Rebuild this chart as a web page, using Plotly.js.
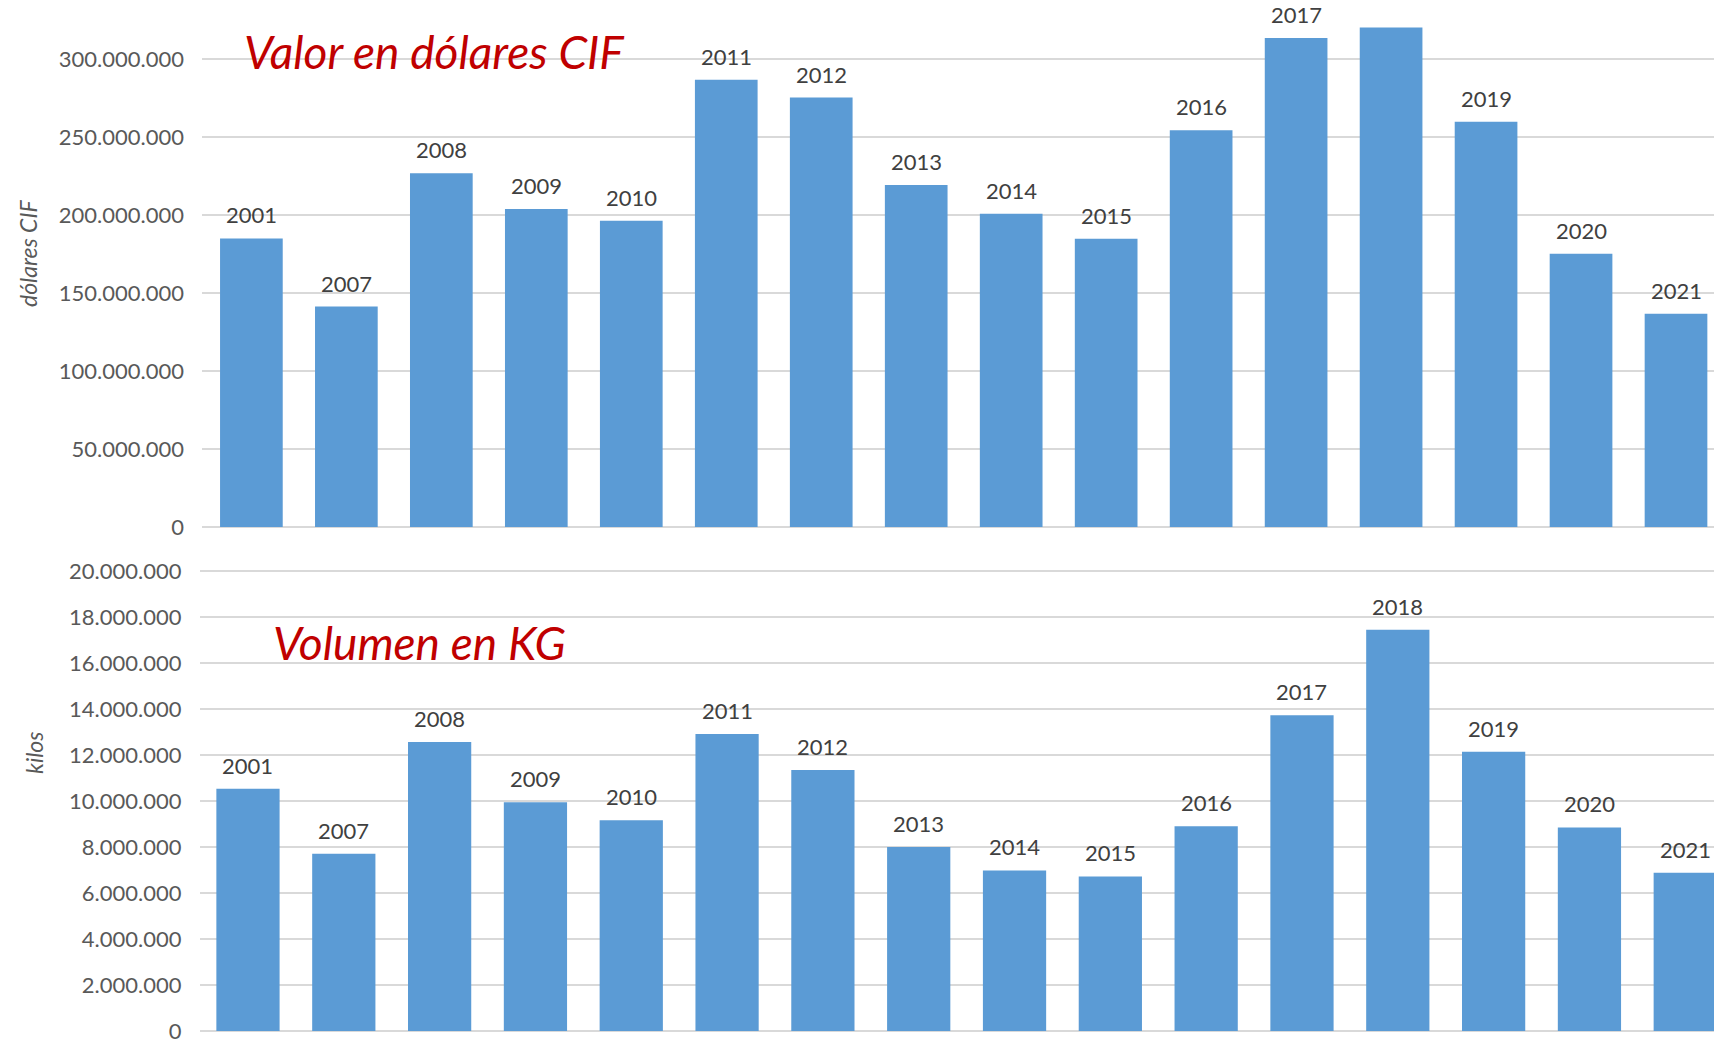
<!DOCTYPE html>
<html><head><meta charset="utf-8">
<script src="https://cdn.plot.ly/plotly-3.0.1.min.js"></script>
<style>html,body{margin:0;padding:0;background:#fff;}#chart{width:1714px;height:1043px;}</style>
</head><body><div id="chart"></div>
<script>
// ---- data ----
const years = ['2001','2007','2008','2009','2010','2011','2012','2013','2014','2015','2016','2017','2018','2019','2020','2021'];
const valorCIF = [185000000, 141300000, 226700000, 203800000, 196300000, 286700000, 275300000, 219200000, 200800000, 184800000, 254400000, 313500000, 320200000, 259700000, 175200000, 136700000];
const volumenKG = [10530000, 7710000, 12570000, 9950000, 9160000, 12910000, 11350000, 8000000, 6980000, 6720000, 8900000, 13730000, 17450000, 12140000, 8850000, 6880000];
const hiddenTopLabels = ['2018'];
const titleTop = 'Valor en dólares CIF';
const titleBottom = 'Volumen en KG';
const yTitleTop = 'dólares CIF';
const yTitleBottom = 'kilos';

// ---- layout helpers ----
const W = 1714, H = 1043;
const px = v => v / W;
const py = v => 1 - v / H;
const FONT = 'Lato, "Open Sans", sans-serif';
const barColor = '#5B9BD5';
const gridColor = '#D9D9D9';

const traces = [
  {type:'bar', x:years, y:valorCIF, xaxis:'x', yaxis:'y', marker:{color:barColor}, hoverinfo:'skip'},
  {type:'bar', x:years, y:volumenKG, xaxis:'x2', yaxis:'y2', marker:{color:barColor}, hoverinfo:'skip'}
];

const labelFont = {family:FONT, size:22, color:'#404040'};
const annotations = [];
years.forEach((yr, i) => {
  if (!hiddenTopLabels.includes(yr)) {
    annotations.push({xref:'x', yref:'y', x:i, y:valorCIF[i], text:yr, showarrow:false,
      yanchor:'bottom', xanchor:'center', yshift:8, font:labelFont});
  }
  annotations.push({xref:'x2', yref:'y2', x:i, y:volumenKG[i], text:yr, showarrow:false,
    yanchor:'bottom', xanchor:'center', yshift:8, font:labelFont});
});

const titleFont = {family:FONT, size:46, color:'#C00000', style:'italic'};
annotations.push({xref:'paper', yref:'paper', x:px(434), y:py(52), text:titleTop, showarrow:false,
  xanchor:'center', yanchor:'middle', font:titleFont});
annotations.push({xref:'paper', yref:'paper', x:px(419), y:py(642), text:titleBottom, showarrow:false,
  xanchor:'center', yanchor:'middle', font:titleFont});

const axTitleFont = {family:FONT, size:23, color:'#595959', style:'italic'};
annotations.push({xref:'paper', yref:'paper', x:px(28), y:py(253), text:yTitleTop, textangle:-90,
  showarrow:false, xanchor:'center', yanchor:'middle', font:axTitleFont});
annotations.push({xref:'paper', yref:'paper', x:px(34), y:py(753), text:yTitleBottom, textangle:-90,
  showarrow:false, xanchor:'center', yanchor:'middle', font:axTitleFont});

const shapes = [
  {type:'rect', xref:'paper', yref:'paper', x0:px(221), x1:px(683), y0:py(97), y1:py(18),
   fillcolor:'#ffffff', line:{width:0}, layer:'between'},
  {type:'rect', xref:'paper', yref:'paper', x0:px(251), x1:px(778), y0:py(700), y1:py(580),
   fillcolor:'#ffffff', line:{width:0}, layer:'between'}
];

const tickFont = {family:FONT, size:22, color:'#595959'};
const yBase = {tickformat:',d', tick0:0, showgrid:true, gridcolor:gridColor, gridwidth:1.4,
  zeroline:true, zerolinecolor:gridColor, zerolinewidth:1.4, showline:false, ticks:'',
  tickfont:tickFont, ticklabelstandoff:17, ticklabeloverflow:'allow', fixedrange:true};
const xBase = {type:'category', showticklabels:false, showgrid:false, zeroline:false, showline:false,
  ticks:'', fixedrange:true};

const layout = {
  width:W, height:H, margin:{l:0, r:0, t:0, b:0},
  paper_bgcolor:'#ffffff', plot_bgcolor:'#ffffff',
  showlegend:false, separators:',.', bargap:0.34,
  xaxis:Object.assign({}, xBase, {domain:[px(202), 1], range:[-0.52, 15.40], anchor:'y'}),
  yaxis:Object.assign({}, yBase, {domain:[py(527), py(4)], range:[0, 335260000], dtick:50000000, anchor:'x'}),
  xaxis2:Object.assign({}, xBase, {domain:[px(199.5), 1], range:[-0.506, 15.30], anchor:'y2'}),
  yaxis2:Object.assign({}, yBase, {domain:[py(1031), py(569)], range:[0, 20087000], dtick:2000000, anchor:'x2'}),
  annotations:annotations, shapes:shapes
};

Plotly.newPlot('chart', traces, layout, {displayModeBar:false, staticPlot:true});
</script>
</body></html>
